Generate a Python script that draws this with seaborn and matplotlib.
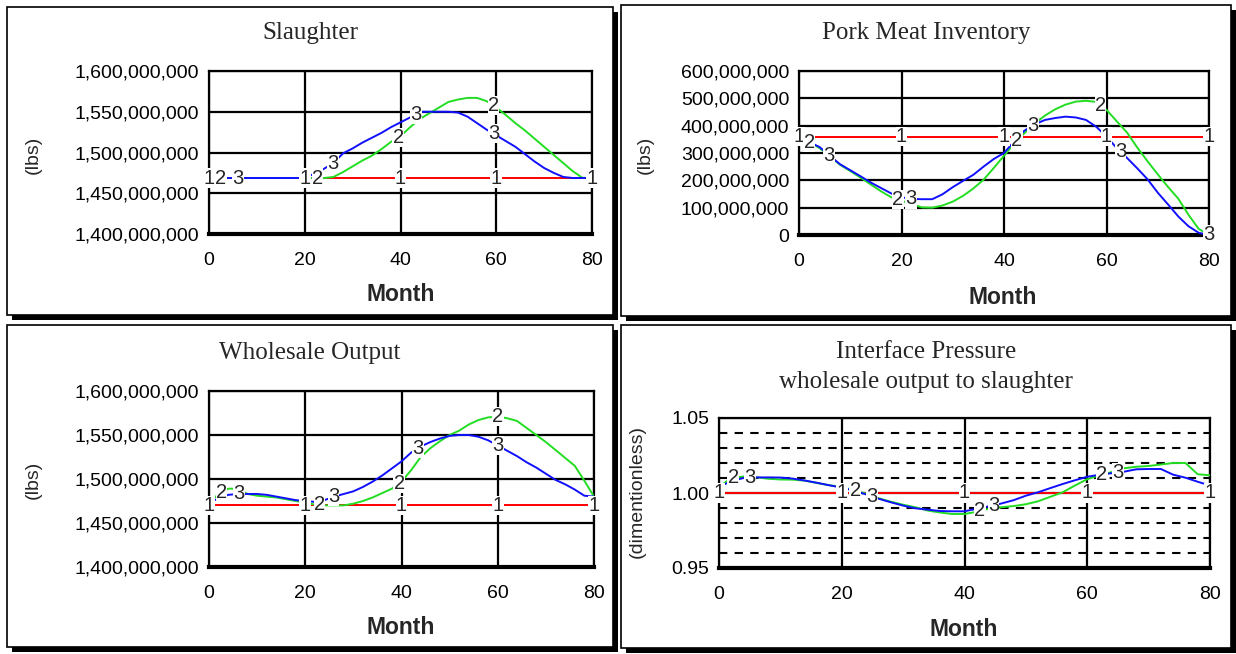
import numpy as np
import pandas as pd
import matplotlib
matplotlib.use('Agg')
import matplotlib.pyplot as plt
from matplotlib.patches import Rectangle
from matplotlib.ticker import FuncFormatter, MultipleLocator
import seaborn as sns

# month axis shared by every run
months = list(range(0, 81, 2))

# Slaughter (million lbs)
slaughter_1 = [1468.7] * 41
slaughter_2 = [1468.7, 1468.7, 1468.7, 1468.7, 1468.7, 1468.7, 1468.7, 1468.7, 1468.7, 1468.7,
               1468.7, 1468.7, 1468.7, 1470, 1476, 1483, 1490, 1496, 1504, 1513,
               1520, 1531, 1541, 1548, 1555, 1562, 1565, 1567, 1567, 1563,
               1555, 1546, 1536, 1527, 1517, 1507, 1497, 1487, 1477, 1469, 1468.7]
slaughter_3 = [1468.7, 1468.7, 1468.7, 1468.7, 1468.7, 1468.7, 1468.7, 1468.7, 1468.7, 1468.7,
               1468.7, 1474, 1480, 1487, 1499, 1505, 1512, 1518, 1524, 1531,
               1537, 1543, 1550, 1550, 1550, 1550, 1549, 1544, 1536, 1528,
               1521, 1514, 1507, 1498, 1489, 1481, 1475, 1470, 1468.7, 1468.7, 1468.7]

# Pork meat inventory (million lbs)
pork_1 = [360] * 41
pork_2 = [360, 340, 318, 288, 257, 234, 210, 185, 160, 138,
          125, 113, 101, 100, 108, 122, 143, 170, 202, 245,
          290, 335, 373, 408, 437, 460, 477, 488, 491, 487,
          458, 416, 375, 320, 270, 222, 176, 133, 74, 22, 0]
pork_3 = [360, 340, 322, 290, 259, 237, 215, 192, 172, 152,
          138, 132, 131, 131, 149, 175, 198, 220, 250, 278,
          300, 343, 382, 405, 421, 428, 433, 430, 421, 396,
          360, 318, 282, 244, 204, 155, 112, 68, 32, 8, 0]

# Wholesale output (million lbs)
wholesale_1 = [1470] * 41
wholesale_2 = [1473, 1483, 1489, 1489, 1483, 1481, 1480, 1479, 1477, 1475,
               1473, 1471, 1470, 1470, 1470, 1472, 1475, 1479, 1484, 1489,
               1497, 1510, 1525, 1535, 1543, 1550, 1555, 1562, 1567, 1570,
               1571, 1569, 1566, 1558, 1550, 1542, 1533, 1524, 1515, 1498, 1480]
wholesale_3 = [1473, 1478, 1482, 1483, 1483, 1483, 1482, 1480, 1478, 1476,
               1475, 1474, 1476, 1480, 1483, 1486, 1491, 1497, 1504, 1512,
               1520, 1530, 1537, 1542, 1546, 1549, 1550, 1550, 1548, 1544,
               1538, 1532, 1526, 1519, 1513, 1506, 1499, 1494, 1488, 1481, 1480]

# Interface pressure (dimensionless)
pressure_1 = [1.0] * 41
pressure_2 = [1.004, 1.010, 1.011, 1.0105, 1.0095, 1.009, 1.0089, 1.0082, 1.0066, 1.0052,
              1.004, 1.002, 0.9995, 0.9965, 0.9942, 0.9922, 0.9905, 0.9883, 0.987, 0.986,
              0.986, 0.9875, 0.9895, 0.9905, 0.9913, 0.9925, 0.9945, 0.9975, 1.0005, 1.005,
              1.0092, 1.0118, 1.014, 1.0165, 1.0175, 1.018, 1.019, 1.02, 1.02, 1.0125, 1.0118]
pressure_3 = [1.004, 1.008, 1.010, 1.0104, 1.0104, 1.0103, 1.0096, 1.0083, 1.0068, 1.0051,
              1.0036, 1.0015, 0.999, 0.9962, 0.9938, 0.9916, 0.9898, 0.9889, 0.988, 0.9878,
              0.9878, 0.9895, 0.9912, 0.993, 0.9952, 0.9982, 1.0005, 1.0033, 1.006, 1.0085,
              1.0108, 1.0122, 1.0132, 1.0142, 1.0158, 1.016, 1.016, 1.0122, 1.0102, 1.0075, 1.005]

# months where the run numbers are printed on the lines
slaughter_marks = {'1': [0, 20, 40, 60, 80], '2': [2.5, 22.7, 39.5, 59.4], '3': [6, 25.9, 43.2, 59.4]}
pork_marks = {'1': [0, 20, 40, 60, 80], '2': [2, 19.3, 42.5, 58.8], '3': [5.9, 21.9, 45.7, 62.7, 80]}
wholesale_marks = {'1': [0, 20, 40, 60, 80], '2': [2.6, 23, 39.5, 60], '3': [6.3, 25.9, 43.4, 60]}
pressure_marks = {'1': [0, 20, 40, 60, 80], '2': [2.3, 22.2, 42.5, 62.4], '3': [5, 24.9, 44.7, 65]}

run_colors = {'1': '#ff0000', '2': '#22dd22', '3': '#1010ff'}

sns.set_style('white')
plt.rcParams['font.family'] = ['Liberation Sans', 'DejaVu Sans']

W, H = 1236, 654
fig = plt.figure(figsize=(W / 100, H / 100), dpi=100)


def px_axes(l, t, r, b):
    return fig.add_axes([l / W, 1 - b / H, (r - l) / W, (b - t) / H])


def frame(l, t, r, b):
    # panel box with the heavy drop shadow
    fig.add_artist(Rectangle((l / W + 5 / W, 1 - (b + 5) / H), (r - l) / W, (b - t) / H,
                             transform=fig.transFigure, facecolor='black', edgecolor='none', zorder=-3))
    fig.add_artist(Rectangle((l / W, 1 - b / H), (r - l) / W, (b - t) / H,
                             transform=fig.transFigure, facecolor='white', edgecolor='black',
                             linewidth=1.2, zorder=-2))


def draw_panel(ax, runs, marks, scale):
    frames = []
    for run, vals in runs.items():
        frames.append(pd.DataFrame({'month': months, 'value': np.array(vals) * scale, 'run': run}))
    df = pd.concat(frames)
    sns.lineplot(data=df, x='month', y='value', hue='run', palette=run_colors,
                 legend=False, linewidth=1.4, ax=ax, zorder=3)
    for run, where in marks.items():
        vals = np.array(runs[run]) * scale
        for m in where:
            ax.text(m, np.interp(m, months, vals), run, ha='center', va='center', fontsize=14.5,
                    zorder=6, clip_on=False,
                    bbox=dict(facecolor='white', edgecolor='none', pad=0.2))
    ax.set_xlim(0, 80)
    ax.xaxis.set_major_locator(MultipleLocator(20))
    ax.grid(True, which='major', color='black', linewidth=1.6)
    for side in ['top', 'right', 'left']:
        ax.spines[side].set_color('black')
        ax.spines[side].set_linewidth(1.6)
    ax.spines['bottom'].set_color('black')
    ax.spines['bottom'].set_linewidth(3)
    ax.tick_params(axis='both', which='major', direction='out', length=4, width=1.2,
                   labelsize=14, pad=3, colors='black')
    ax.tick_params(axis='x', which='major', pad=9)
    ax.set_xlabel('')
    ax.set_ylabel('')


lbs_fmt = FuncFormatter(lambda v, p: f'{v:,.0f}')

# Slaughter
frame(7, 7, 613, 315)
ax1 = px_axes(209, 71, 592, 234)
draw_panel(ax1, {'1': slaughter_1, '2': slaughter_2, '3': slaughter_3}, slaughter_marks, 1e6)
ax1.set_ylim(1.4e9, 1.6e9)
ax1.yaxis.set_major_locator(MultipleLocator(5e7))
ax1.yaxis.set_major_formatter(lbs_fmt)

# Pork meat inventory
frame(621, 5, 1231, 316)
ax2 = px_axes(799, 71, 1209, 235)
draw_panel(ax2, {'1': pork_1, '2': pork_2, '3': pork_3}, pork_marks, 1e6)
ax2.set_ylim(0, 6e8)
ax2.yaxis.set_major_locator(MultipleLocator(1e8))
ax2.yaxis.set_major_formatter(lbs_fmt)

# Wholesale output
frame(7, 325, 613, 647)
ax3 = px_axes(209, 391, 594, 567)
draw_panel(ax3, {'1': wholesale_1, '2': wholesale_2, '3': wholesale_3}, wholesale_marks, 1e6)
ax3.set_ylim(1.4e9, 1.6e9)
ax3.yaxis.set_major_locator(MultipleLocator(5e7))
ax3.yaxis.set_major_formatter(lbs_fmt)

# Interface pressure
frame(621, 325, 1231, 648)
ax4 = px_axes(719, 418, 1210, 568)
draw_panel(ax4, {'1': pressure_1, '2': pressure_2, '3': pressure_3}, pressure_marks, 1.0)
ax4.set_ylim(0.95, 1.05)
ax4.yaxis.set_major_locator(MultipleLocator(0.05))
ax4.yaxis.set_minor_locator(MultipleLocator(0.01))
ax4.yaxis.set_major_formatter(FuncFormatter(lambda v, p: f'{v:.2f}'))
ax4.grid(True, which='minor', axis='y', color='black', linewidth=1.5, linestyle=(0, (4, 3.5)))
ax4.tick_params(axis='y', which='minor', direction='out', length=3, width=1, colors='black')

# titles and axis names
title_font = dict(family=['Liberation Serif', 'DejaVu Serif'], fontsize=18, ha='center', va='center')
fig.text(310 / W, 1 - 33 / H, 'Slaughter', **title_font)
fig.text(926 / W, 1 - 33 / H, 'Pork Meat Inventory', **title_font)
fig.text(310 / W, 1 - 353 / H, 'Wholesale Output', **title_font)
fig.text(926 / W, 1 - 352 / H, 'Interface Pressure', **title_font)
fig.text(926 / W, 1 - 382 / H, 'wholesale output to slaughter', **title_font)

for x, y in [(401, 295), (1003, 297), (401, 628), (964, 630)]:
    fig.text(x / W, 1 - y / H, 'Month', fontsize=16.5, fontweight='bold', ha='center', va='center')
for x, y, s in [(33, 155, '(lbs)'), (645, 155, '(lbs)'), (33, 480, '(lbs)'), (637, 492, '(dimentionless)')]:
    fig.text(x / W, 1 - y / H, s, fontsize=14, rotation=90, ha='center', va='center')

fig.savefig('out.png', dpi=100)
